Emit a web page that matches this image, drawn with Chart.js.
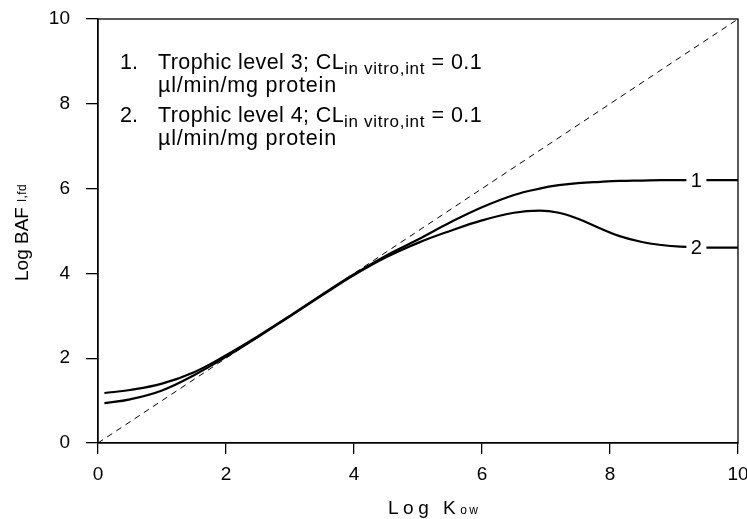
<!DOCTYPE html>
<html>
<head>
<meta charset="utf-8">
<script src="https://cdn.jsdelivr.net/npm/chart.js@4/dist/chart.umd.min.js"></script>
<style>
  html, body { margin: 0; padding: 0; background: #fff; }
  #wrap { width: 747px; height: 519px; }
</style>
</head>
<body>
<div id="wrap"><canvas id="myChart" width="747" height="519"></canvas></div>
<script>
// data
var logKow = [0.1, 0.5, 1.0, 1.5, 2.0, 2.5, 3.0, 3.5, 4.0, 4.5, 5.0, 5.5, 6.0, 6.5, 6.9, 7.2, 7.5, 7.85, 8.15, 8.5, 8.8, 9.1, 9.5, 10];
var baf1 = [1.18, 1.25, 1.40, 1.67, 2.07, 2.52, 3.00, 3.50, 3.98, 4.42, 4.80, 5.20, 5.56, 5.85, 6.00, 6.08, 6.13, 6.16, 6.18, 6.19, 6.20, 6.20, 6.20, 6.20];
var baf2 = [0.94, 1.03, 1.24, 1.60, 2.03, 2.50, 2.99, 3.48, 3.96, 4.38, 4.72, 5.00, 5.25, 5.43, 5.48, 5.43, 5.29, 5.06, 4.88, 4.74, 4.67, 4.63, 4.61, 4.61];
var oneToOne = [0, 10];
var tickValues = [0, 2, 4, 6, 8, 10];
var curveNames = ['1', '2'];
var curveLabelX = 9.35;

var font = '"Liberation Sans", Arial, Helvetica, sans-serif';

function pts(xs, ys) {
  return xs.map(function(x, i) { return { x: x, y: ys[i] }; });
}

// frame round the plot area
var framePlugin = {
  id: 'frame',
  afterDraw: function(chart) {
    var a = chart.chartArea, c = chart.ctx;
    c.save();
    c.strokeStyle = '#000';
    c.lineWidth = 1.3;
    c.strokeRect(a.left, a.top, a.right - a.left, a.bottom - a.top);
    c.restore();
  }
};

// "1" and "2" sitting on the curves
var curveLabels = {
  id: 'curveLabels',
  afterDatasetsDraw: function(chart) {
    var c = chart.ctx, xs = chart.scales.x, ys = chart.scales.y;
    var series = [baf1, baf2];
    c.save();
    c.font = '20px ' + font;
    c.textAlign = 'center';
    c.textBaseline = 'middle';
    series.forEach(function(s, i) {
      var px = xs.getPixelForValue(curveLabelX);
      var py = ys.getPixelForValue(s[s.length - 1]);
      c.fillStyle = '#fff';
      c.fillRect(px - 10, py - 6, 20, 12);
      c.fillStyle = '#000';
      c.fillText(curveNames[i], px, py + 1);
    });
    c.restore();
  }
};

// text with a subscript part
function subText(c, parts, x, y, big, small, drop, sp, subSp) {
  parts.forEach(function(p) {
    c.font = (p.sub ? small : big) + 'px ' + font;
    c.letterSpacing = (p.sub ? subSp : sp) + 'px';
    c.fillText(p.t, x, y + (p.sub ? drop : 0));
    x += c.measureText(p.t).width;
  });
  c.letterSpacing = '0px';
}

var annotations = {
  id: 'annotations',
  afterDraw: function(chart) {
    var c = chart.ctx;
    c.save();
    c.fillStyle = '#000';
    c.textBaseline = 'alphabetic';
    c.textAlign = 'left';
    // legend text
    c.font = '21.5px ' + font;
    c.fillText('1.', 120, 69);
    subText(c, [{ t: 'Trophic level 3; CL' }, { t: 'in vitro,int', sub: true }, { t: ' = 0.1' }], 158, 69, 21.5, 17, 5, 0.4, 0.7);
    c.font = '21.5px ' + font;
    c.letterSpacing = '0.8px';
    c.fillText('\u00b5l/min/mg protein', 158, 92);
    c.letterSpacing = '0px';
    c.fillText('2.', 120, 122);
    subText(c, [{ t: 'Trophic level 4; CL' }, { t: 'in vitro,int', sub: true }, { t: ' = 0.1' }], 158, 122, 21.5, 17, 5, 0.4, 0.7);
    c.font = '21.5px ' + font;
    c.letterSpacing = '0.8px';
    c.fillText('\u00b5l/min/mg protein', 158, 145);
    c.letterSpacing = '0px';

    // x title
    subText(c, [{ t: 'Log K' }, { t: 'ow', sub: true }], 388, 514, 19, 12, 0, 4.5, 2.5);

    // y title
    c.translate(28, 281);
    c.rotate(-Math.PI / 2);
    subText(c, [{ t: 'Log BAF ' }, { t: 'l,fd', sub: true }], 0, 0, 19, 12, -2, 0, 0.5);
    c.restore();
  }
};

var ctx = document.getElementById('myChart').getContext('2d');
var chart = new Chart(ctx, {
  type: 'line',
  data: {
    datasets: [{
      label: 'Trophic level 3',
      data: pts(logKow, baf1),
      borderColor: '#000',
      borderWidth: 2.2,
      pointRadius: 0,
      tension: 0.4
    },
    {
      label: 'Trophic level 4',
      data: pts(logKow, baf2),
      borderColor: '#000',
      borderWidth: 2.2,
      pointRadius: 0,
      tension: 0.4
    },
    {
      label: '1:1',
      data: pts(oneToOne, oneToOne),
      borderColor: '#000',
      borderWidth: 1,
      borderDash: [6, 5],
      pointRadius: 0
    }]
  },
  options: {
    responsive: false,
    animation: false,
    layout: { padding: { top: 19, right: 9, left: 0, bottom: 0 } },
    plugins: { legend: { display: false }, tooltip: { enabled: false } },
    scales: {
      x: {
        type: 'linear',
        min: 0, max: 10,
        afterBuildTicks: function(s) { s.ticks = tickValues.map(function(v) { return { value: v }; }); },
        ticks: { color: '#000', font: { size: 19, family: font }, padding: 9, maxRotation: 0 },
        grid: { drawOnChartArea: false, tickLength: 11, color: '#000', lineWidth: 1.3 },
        border: { color: '#000', width: 1.3 },
        afterFit: function(s) { s.height = 76; s.paddingLeft = 0; s.paddingRight = 0; }
      },
      y: {
        type: 'linear',
        min: 0, max: 10,
        afterBuildTicks: function(s) { s.ticks = tickValues.map(function(v) { return { value: v }; }); },
        ticks: { color: '#000', font: { size: 19, family: font }, padding: 16 },
        grid: { drawOnChartArea: false, tickLength: 12, color: '#000', lineWidth: 1.3 },
        border: { color: '#000', width: 1.3 },
        afterFit: function(s) { s.width = 98; s.paddingTop = 0; s.paddingBottom = 0; }
      }
    }
  },
  plugins: [framePlugin, curveLabels, annotations]
});
</script>
</body>
</html>
